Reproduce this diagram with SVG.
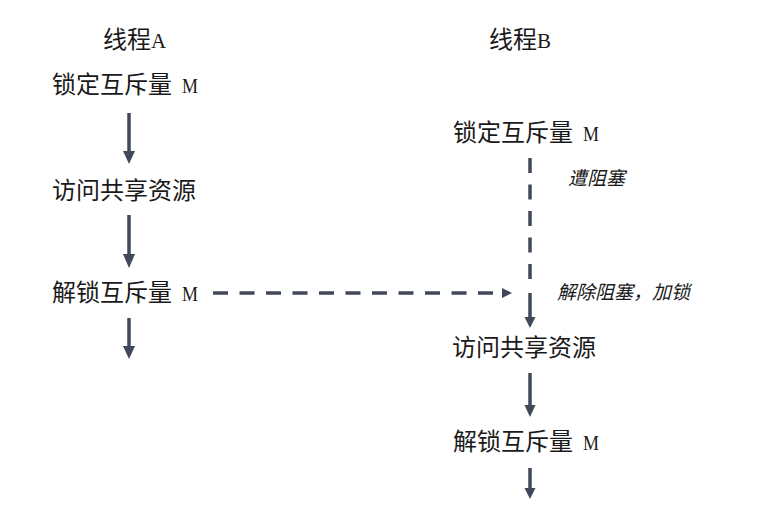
<svg xmlns="http://www.w3.org/2000/svg" width="780" height="507" viewBox="0 0 780 507">
<defs>
<style>
.t{font-family:"Noto Sans CJK SC",sans-serif;font-size:24px;fill:#1a1a1a}
.l{font-family:"Liberation Serif",serif;font-size:21px}
.i{font-family:"Noto Sans CJK SC",sans-serif;font-size:19px;font-style:italic;fill:#1a1a1a}
.ln{stroke:#414859;stroke-width:3.5;fill:none}
.d{stroke-dasharray:15 11.5}
.h{fill:#414859}
</style>
</defs>
<rect width="780" height="507" fill="#ffffff"/>
<g id="headerA"><text class="t" x="103" y="48">线程<tspan class="l">A</tspan></text></g>
<g id="headerB"><text class="t" x="489" y="48">线程<tspan class="l">B</tspan></text></g>
<g id="a-lock"><text class="t" x="52" y="93">锁定互斥量<tspan class="l" x="182" textLength="16" lengthAdjust="spacingAndGlyphs">M</tspan></text></g>
<g id="a-access"><text class="t" x="52" y="199">访问共享资源</text></g>
<g id="a-unlock"><text class="t" x="52" y="301">解锁互斥量<tspan class="l" x="182" textLength="16" lengthAdjust="spacingAndGlyphs">M</tspan></text></g>
<g id="b-lock"><text class="t" x="453" y="141">锁定互斥量<tspan class="l" x="583" textLength="16" lengthAdjust="spacingAndGlyphs">M</tspan></text></g>
<g id="b-blocked"><text class="i" x="568" y="185">遭阻塞</text></g>
<g id="b-unblock"><text class="i" x="557" y="299">解除阻塞，加锁</text></g>
<g id="b-access"><text class="t" x="452" y="356">访问共享资源</text></g>
<g id="b-unlock"><text class="t" x="453" y="450">解锁互斥量<tspan class="l" x="583" textLength="16" lengthAdjust="spacingAndGlyphs">M</tspan></text></g>
<g id="connectors">
<line class="ln" x1="129" y1="113" x2="129" y2="153"/>
<polygon class="h" points="123,151 135,151 129,164"/>
<line class="ln" x1="129" y1="215" x2="129" y2="256"/>
<polygon class="h" points="123,254 135,254 129,268"/>
<line class="ln" x1="129" y1="318" x2="129" y2="348"/>
<polygon class="h" points="123,346 135,346 129,359"/>
<line class="ln d" x1="530" y1="158" x2="530" y2="285"/>
<line class="ln" x1="530" y1="293" x2="530" y2="318"/>
<polygon class="h" points="524.5,317 535.5,317 530,328"/>
<line class="ln d" x1="213" y1="293" x2="496" y2="293"/>
<polygon class="h" points="502,288 502,298 512,293"/>
<line class="ln" x1="530" y1="373" x2="530" y2="406"/>
<polygon class="h" points="524.5,405 535.5,405 530,417"/>
<line class="ln" x1="530" y1="468" x2="530" y2="489"/>
<polygon class="h" points="524.5,488 535.5,488 530,499"/>
</g>
</svg>
